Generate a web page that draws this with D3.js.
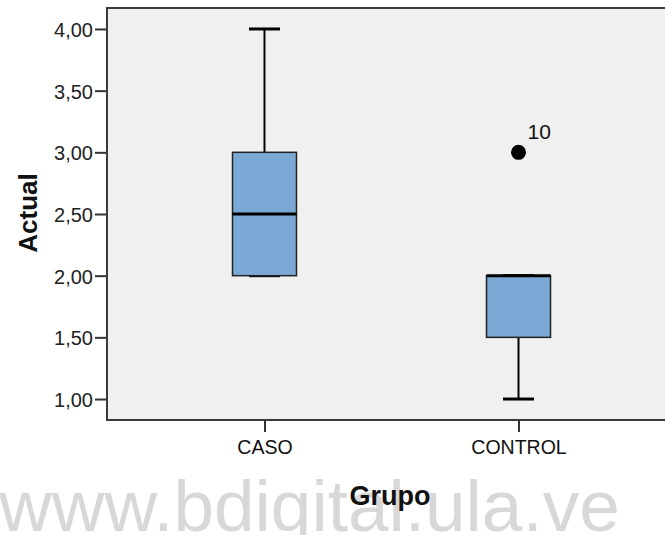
<!DOCTYPE html>
<html>
<head>
<meta charset="utf-8">
<script src="https://cdn.jsdelivr.net/npm/d3@7/dist/d3.min.js"></script>
<style>
  html, body { margin: 0; padding: 0; background: #ffffff; }
  svg { display: block; }
</style>
</head>
<body>
<svg id="chart" width="665" height="535"></svg>
<script>
// Box-plot summaries per group
const groups = ["CASO", "CONTROL"];
const lowerWhisker = [2.0, 1.0];
const q1 = [2.0, 1.5];
const median = [2.5, 2.0];
const q3 = [3.0, 2.0];
const upperWhisker = [4.0, 2.0];

// Outliers (group, value, case label)
const outlierGroups = ["CONTROL"];
const outlierValues = [3.0];
const outlierLabels = ["10"];

const yTicks = [1.0, 1.5, 2.0, 2.5, 3.0, 3.5, 4.0];

const FONT = "Liberation Sans, Arial, sans-serif";
const svg = d3.select("#chart");
const plot = { left: 107, right: 676, top: 8, bottom: 420 };

const x = d3.scalePoint()
  .domain(groups)
  .range([plot.left, plot.right])
  .padding(0.62);

const y = d3.scaleLinear()
  .domain([0.83, 4.17])
  .range([plot.bottom, plot.top]);

const boxW = 64, capW = 31;
const fmt = v => d3.format(".2f")(v).replace(".", ",");

// watermark
svg.append("text")
  .attr("x", -1)
  .attr("y", 531)
  .attr("font-family", FONT)
  .attr("font-size", 73)
  .attr("fill", "#d8d8d8")
  .text("www.bdigital.ula.ve");

// plot background
svg.append("rect")
  .attr("x", plot.left).attr("y", plot.top)
  .attr("width", plot.right - plot.left).attr("height", plot.bottom - plot.top)
  .attr("fill", "#f0f0f0");

// Y axis
const yAxis = d3.axisLeft(y).tickValues(yTicks).tickFormat(fmt).tickSize(12).tickPadding(2);
const gy = svg.append("g").attr("transform", `translate(${plot.left},0)`).call(yAxis);
gy.select(".domain").remove();
gy.selectAll(".tick line").attr("stroke", "#333").attr("stroke-width", 2);
gy.selectAll(".tick text")
  .attr("font-family", FONT)
  .attr("font-size", 20).attr("dy", "0.38em").attr("fill", "#222");

// X axis
const xAxis = d3.axisBottom(x).tickSize(12).tickPadding(8);
const gx = svg.append("g").attr("transform", `translate(0,${plot.bottom})`).call(xAxis);
gx.select(".domain").remove();
gx.selectAll(".tick line").attr("stroke", "#333").attr("stroke-width", 2);
gx.selectAll(".tick text")
  .attr("font-family", FONT)
  .attr("font-size", 19.5).attr("fill", "#111");

// boxes
const boxes = groups.map((g, i) => ({
  g, lo: lowerWhisker[i], q1: q1[i], med: median[i], q3: q3[i], hi: upperWhisker[i]
}));

const bg = svg.append("g");
boxes.forEach(d => {
  const cx = x(d.g);
  // whiskers
  if (d.hi > d.q3) {
    bg.append("line").attr("x1", cx).attr("x2", cx).attr("y1", y(d.q3)).attr("y2", y(d.hi))
      .attr("stroke", "#000").attr("stroke-width", 2);
  }
  if (d.lo < d.q1) {
    bg.append("line").attr("x1", cx).attr("x2", cx).attr("y1", y(d.q1)).attr("y2", y(d.lo))
      .attr("stroke", "#000").attr("stroke-width", 2);
  }
  // caps
  [d.lo, d.hi].forEach(v => {
    bg.append("line").attr("x1", cx - capW / 2).attr("x2", cx + capW / 2)
      .attr("y1", y(v)).attr("y2", y(v))
      .attr("stroke", "#000").attr("stroke-width", 3);
  });
  // box
  bg.append("rect")
    .attr("x", cx - boxW / 2).attr("y", y(d.q3))
    .attr("width", boxW).attr("height", y(d.q1) - y(d.q3))
    .attr("fill", "#7aa9d6").attr("stroke", "#222").attr("stroke-width", 1.5);
  // median
  bg.append("line").attr("x1", cx - boxW / 2).attr("x2", cx + boxW / 2)
    .attr("y1", y(d.med)).attr("y2", y(d.med))
    .attr("stroke", "#000").attr("stroke-width", 3);
});

// outliers
outlierValues.forEach((v, i) => {
  const cx = x(outlierGroups[i]);
  svg.append("circle").attr("cx", cx).attr("cy", y(v)).attr("r", 7.5).attr("fill", "#000");
  svg.append("text").attr("x", cx + 9).attr("y", y(v) - 13)
    .attr("font-family", FONT)
    .attr("font-size", 21).attr("fill", "#111").text(outlierLabels[i]);
});

// frame
svg.append("path")
  .attr("d", `M${plot.right},${plot.top}H${plot.left}V${plot.bottom}H${plot.right}`)
  .attr("fill", "none").attr("stroke", "#3a3a3a").attr("stroke-width", 2);

// axis titles
svg.append("text")
  .attr("x", 390).attr("y", 505)
  .attr("text-anchor", "middle")
  .attr("font-family", FONT)
  .attr("font-weight", "bold").attr("font-size", 27).attr("fill", "#111")
  .text("Grupo");

svg.append("text")
  .attr("transform", `translate(37,213) rotate(-90)`)
  .attr("text-anchor", "middle")
  .attr("font-family", FONT)
  .attr("font-weight", "bold").attr("font-size", 26).attr("fill", "#111")
  .text("Actual");
</script>
</body>
</html>
